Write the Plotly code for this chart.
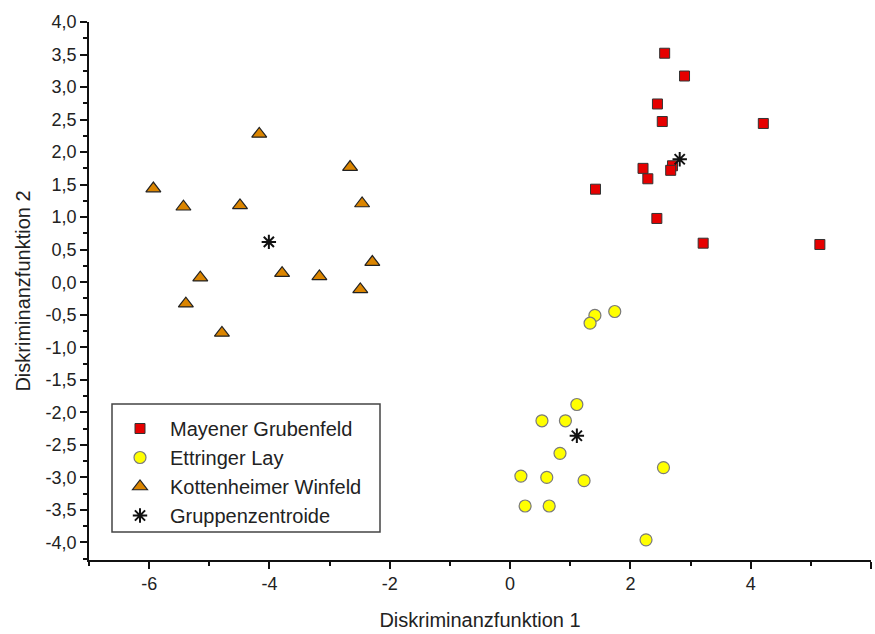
import plotly.graph_objects as go

# Mayener Grubenfeld (squares)
may_x = [2.57, 2.90, 2.45, 2.53, 4.21, 2.21, 2.29, 2.70, 2.67, 1.42, 2.44, 3.21, 5.15]
may_y = [3.52, 3.17, 2.74, 2.47, 2.44, 1.75, 1.59, 1.79, 1.72, 1.43, 0.98, 0.60, 0.58]

# Ettringer Lay (circles)
ett_x = [1.41, 1.33, 1.74, 1.11, 0.53, 0.92, 0.83, 0.18, 0.61, 1.23, 2.55, 0.25, 0.65, 2.26]
ett_y = [-0.51, -0.63, -0.45, -1.88, -2.13, -2.13, -2.63, -2.98, -3.00, -3.05, -2.85, -3.44, -3.44, -3.96]

# Kottenheimer Winfeld (triangles)
kot_x = [-4.17, -5.93, -5.43, -4.49, -3.79, -5.15, -5.39, -4.79, -2.66, -2.46, -2.29, -3.17, -2.49]
kot_y = [2.28, 1.44, 1.16, 1.18, 0.14, 0.07, -0.33, -0.78, 1.77, 1.21, 0.31, 0.09, -0.11]

# Gruppenzentroide
cen_x = [2.82, 1.11, -4.01]
cen_y = [1.89, -2.36, 0.62]

names = ["Mayener Grubenfeld", "Ettringer Lay", "Kottenheimer Winfeld", "Gruppenzentroide"]

# tick labels (hyphen minus, decimal comma)
x_tickvals = [-6, -4, -2, 0, 2, 4, 6]
x_ticktext = ["-6", "-4", "-2", "0", "2", "4", "6"]
y_tickvals = [4.0, 3.5, 3.0, 2.5, 2.0, 1.5, 1.0, 0.5, 0.0, -0.5, -1.0, -1.5, -2.0, -2.5, -3.0, -3.5, -4.0]
y_ticktext = ["4,0", "3,5", "3,0", "2,5", "2,0", "1,5", "1,0", "0,5", "0,0", "-0,5", "-1,0",
              "-1,5", "-2,0", "-2,5", "-3,0", "-3,5", "-4,0"]

fig = go.Figure()
fig.add_trace(go.Scatter(x=may_x, y=may_y, mode="markers", name=names[0],
                         marker=dict(symbol="square", size=10, color="#E60000",
                                     line=dict(color="#333333", width=1))))
fig.add_trace(go.Scatter(x=ett_x, y=ett_y, mode="markers", name=names[1],
                         marker=dict(symbol="circle", size=12, color="#FFFF00",
                                     line=dict(color="#7a7a7a", width=1.2))))
fig.add_trace(go.Scatter(x=kot_x, y=kot_y, mode="markers", name=names[2],
                         marker=dict(symbol="triangle-up", size=13, color="#DB8500",
                                     line=dict(color="#222222", width=1.2))))
fig.add_trace(go.Scatter(x=cen_x, y=cen_y, mode="markers", name=names[3],
                         marker=dict(symbol="asterisk-open", size=12, color="#111111",
                                     line=dict(color="#111111", width=2))))

L, R, T, B = 89, 4, 22, 74
W, H = 875, 634
pw, ph = W - L - R, H - T - B

def px_to_paper(px, py):
    return (px - L) / pw, (H - B - py) / ph

x0, y1 = px_to_paper(112, 404)
x1, y0 = px_to_paper(380, 532)
lx, ly = px_to_paper(110, 409)

fig.add_shape(type="rect", xref="paper", yref="paper", x0=x0, y0=y0, x1=x1, y1=y1,
              line=dict(color="#444444", width=1.5), fillcolor="rgba(0,0,0,0)")

fig.update_layout(
    width=W, height=H,
    margin=dict(l=L, r=R, t=T, b=B),
    paper_bgcolor="white", plot_bgcolor="white",
    font=dict(family="Liberation Sans, Arial, sans-serif", color="#222222", size=18),
    showlegend=True,
    legend=dict(x=lx, y=ly, xanchor="left", yanchor="top", bgcolor="rgba(0,0,0,0)",
                borderwidth=0, font=dict(size=20), itemwidth=50),
    xaxis=dict(range=[-7, 6], tickmode="array", tickvals=x_tickvals, ticktext=x_ticktext,
               showgrid=False, zeroline=False,
               showline=True, linecolor="#111111", linewidth=1.5,
               ticks="outside", ticklen=7, tickwidth=1.5, tickcolor="#111111",
               minor=dict(dtick=1, tick0=0, ticks="outside", ticklen=4, tickwidth=1.5, tickcolor="#111111"),
               title=dict(text="Diskriminanzfunktion 1", font=dict(size=20), standoff=20),
               tickfont=dict(size=18)),
    yaxis=dict(range=[-4.27, 4.0], tickmode="array", tickvals=y_tickvals, ticktext=y_ticktext,
               showgrid=False, zeroline=False, showline=True, linecolor="#111111", linewidth=1.5,
               ticks="outside", ticklen=7, tickwidth=1.5, tickcolor="#111111",
               minor=dict(dtick=0.25, tick0=0, ticks="outside", ticklen=4, tickwidth=1.5, tickcolor="#111111"),
               title=dict(text="Diskriminanzfunktion 2", font=dict(size=20), standoff=10),
               tickfont=dict(size=18)),
)

fig.write_html("out.html")
